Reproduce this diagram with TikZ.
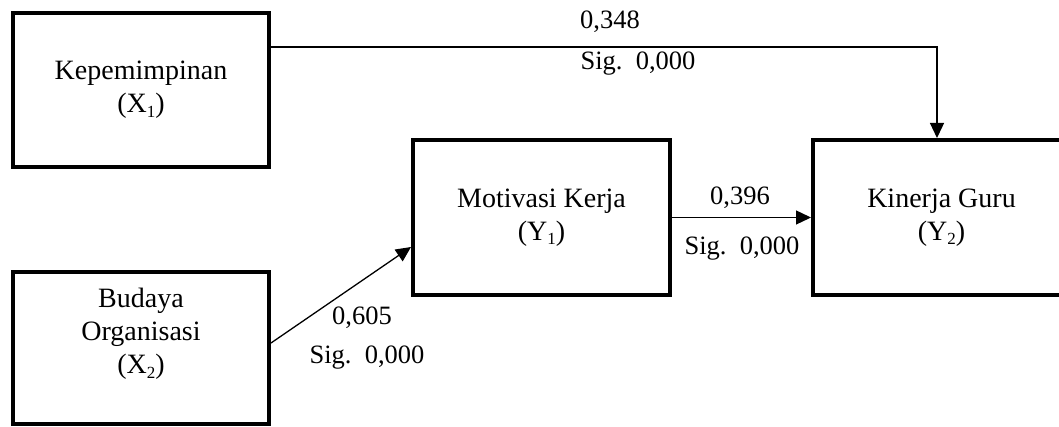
\documentclass[tikz,border=0pt]{standalone}
\usepackage{fontspec}
\setmainfont{Liberation Serif}
\usetikzlibrary{arrows.meta}
\newcommand\lowsub[1]{\raisebox{-0.35ex}{\fontsize{17}{17}\selectfont #1}}
\frenchspacing
\begin{document}
\begin{tikzpicture}[x=1pt,y=-1pt,
  box/.style={draw=black, line width=4pt, rectangle, align=center,
    minimum width=256pt, minimum height=154pt, inner sep=0pt,
    font=\fontsize{28}{33}\selectfont},
  boxtext/.style={align=center, inner sep=0pt, font=\fontsize{28}{33}\selectfont},
  conn/.style={draw=black, line width=1.3pt, -{Triangle[length=15pt,width=14pt]}},
  lab/.style={inner sep=0pt, anchor=base, font=\fontsize{26.5}{30}\selectfont}]
\useasboundingbox (0,0) rectangle (1059,427);
\fill[white] (0,0) rectangle (1059,427);

\node[box] (x1) at (141,90) {Kepemimpinan\\(X\lowsub{1})};
\node[box, minimum height=152pt] (x2) at (141,348) {};
\node[boxtext] (x2t) at (141,334) {Budaya\\Organisasi\\(X\lowsub{2})};
\node[box, minimum width=257pt, minimum height=155pt] (y1) at (541.5,217.5) {Motivasi Kerja\\(Y\lowsub{1})};
\node[box, minimum width=257pt, minimum height=155pt] (y2) at (941.5,217.5) {Kinerja Guru\\(Y\lowsub{2})};

\coordinate (c1) at (937,47);
\draw[conn] (x1.east |- c1) -- (c1) -- (y2.north -| c1);
\draw[conn] (y1.east) -- (y2.west);
\draw[conn] ([yshift=5pt]x2.east) -- ([yshift=-29.5pt]y1.west);

\node[lab] (l1) at (610,29) {0,348};
\node[lab] (s1) at (638,70) {Sig.\ \ 0,000};
\node[lab] (l2) at (740,205) {0,396};
\node[lab] (s2) at (742,255) {Sig.\ \ 0,000};
\node[lab] (l3) at (362,324) {0,605};
\node[lab] (s3) at (367,363) {Sig.\ \ 0,000};
\end{tikzpicture}
\end{document}
